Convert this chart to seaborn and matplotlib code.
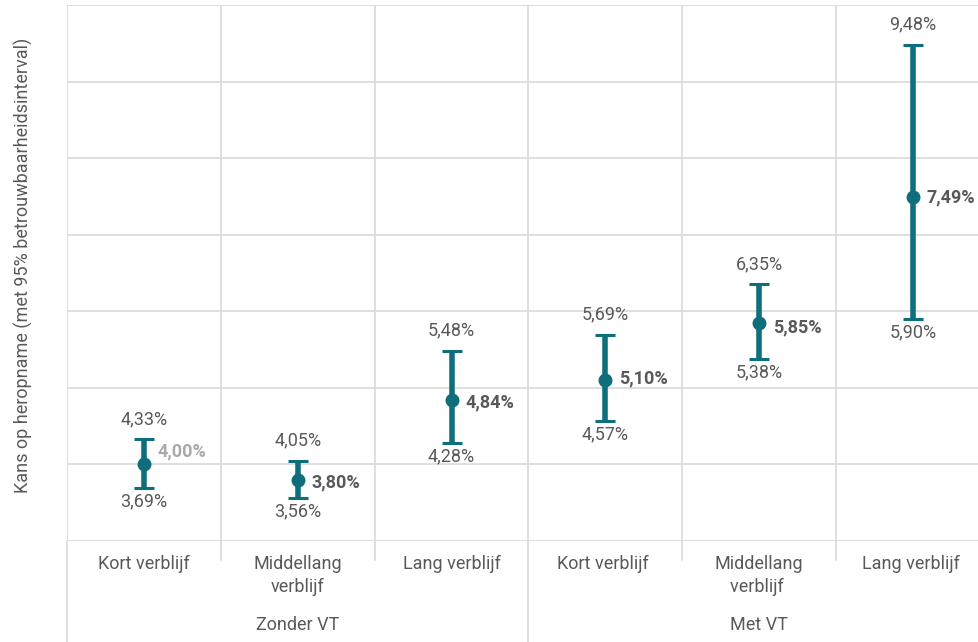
import matplotlib
matplotlib.use('Agg')
import numpy as np
import pandas as pd
import matplotlib.pyplot as plt
import matplotlib.transforms as mtransforms
import seaborn as sns

# ── Data ──────────────────────────────────────────────────────────────────────
CATEGORIES = ['Kort verblijf', 'Middellang\nverblijf', 'Lang verblijf',
              'Kort verblijf ', 'Middellang\nverblijf ', 'Lang verblijf ']
GROUPS     = ['Zonder VT', 'Met VT']
MEAN       = [4.00, 3.80, 4.84, 5.10, 5.85, 7.49]
LOWER      = [3.69, 3.56, 4.28, 4.57, 5.38, 5.90]
UPPER      = [4.33, 4.05, 5.48, 5.69, 6.35, 9.48]

TEAL   = '#0e6e7c'
GREY   = '#595959'
LIGHT  = '#a9a9a9'
GRID   = '#dcdcdc'
FS     = 13


def pct(v):
    return f'{v:.2f}%'.replace('.', ',')


sns.set_theme(style='whitegrid')
plt.rcParams['font.family'] = ['Roboto', 'DejaVu Sans']

df = pd.DataFrame({'cat': CATEGORIES, 'mean': MEAN})

fig = plt.figure(figsize=(9.79, 6.42), dpi=100)
ax = fig.add_axes([67 / 979, 101 / 642, 923 / 979, 536 / 642])

sns.pointplot(data=df, x='cat', y='mean', order=CATEGORIES, color=TEAL,
              linestyle='none', markers='o', markersize=8, errorbar=None,
              zorder=4, ax=ax)
x = np.arange(len(CATEGORIES))
ax.errorbar(x, MEAN,
            yerr=[np.array(MEAN) - np.array(LOWER), np.array(UPPER) - np.array(MEAN)],
            fmt='none', ecolor=TEAL, elinewidth=4, capsize=7, capthick=2.2, zorder=3)

ax.set_ylim(3, 10)
ax.set_yticks(np.arange(3, 11, 1))
ax.set_yticklabels([])
ax.set_xlim(-0.5, 5.5)
ax.set_xticks(x)
ax.set_xticklabels(CATEGORIES, color=GREY, fontsize=FS, linespacing=1.35)
ax.set_xticks(np.arange(-0.5, 6, 1), minor=True)
ax.tick_params(axis='x', which='both', length=0, pad=10)
ax.tick_params(axis='y', length=0)
ax.grid(axis='x', which='major', visible=False)
ax.grid(axis='x', which='minor', color=GRID, linewidth=1.3)
ax.grid(axis='y', which='major', color=GRID, linewidth=1.3)
for s in ax.spines.values():
    s.set_visible(False)
ax.set_xlabel('')
ax.set_ylabel('Kans op heropname (met 95% betrouwbaarheidsinterval)',
              color=GREY, fontsize=FS)
ax.yaxis.set_label_coords(-0.037, 0.515)

# separators running below the axis
trans = mtransforms.blended_transform_factory(ax.transData, ax.transAxes)
for b in np.arange(-0.5, 6, 1):
    low = -0.19 if b in (-0.5, 2.5) else -0.036
    ax.plot([b, b], [0, low], color=GRID, linewidth=1.3, transform=trans,
            clip_on=False)

# group labels
for i, g in enumerate(GROUPS):
    ax.text(1 + 3 * i, -0.157, g, transform=trans, ha='center', va='center',
            color=GREY, fontsize=FS)

# value labels
mean_dy = [9, -2, -2, 1, -3, 0]
for i in range(len(CATEGORIES)):
    ax.annotate(pct(UPPER[i]), (x[i], UPPER[i]), xytext=(0, 11),
                textcoords='offset points', ha='center', va='baseline',
                color=GREY, fontsize=FS)
    ax.annotate(pct(LOWER[i]), (x[i], LOWER[i]), xytext=(0, -3),
                textcoords='offset points', ha='center', va='top',
                color=GREY, fontsize=FS)
    ax.annotate(pct(MEAN[i]), (x[i], MEAN[i]), xytext=(10, mean_dy[i]),
                textcoords='offset points', ha='left', va='center',
                color=LIGHT if i == 0 else GREY, fontsize=FS, fontweight='bold')

fig.savefig('out.png', dpi=100)
